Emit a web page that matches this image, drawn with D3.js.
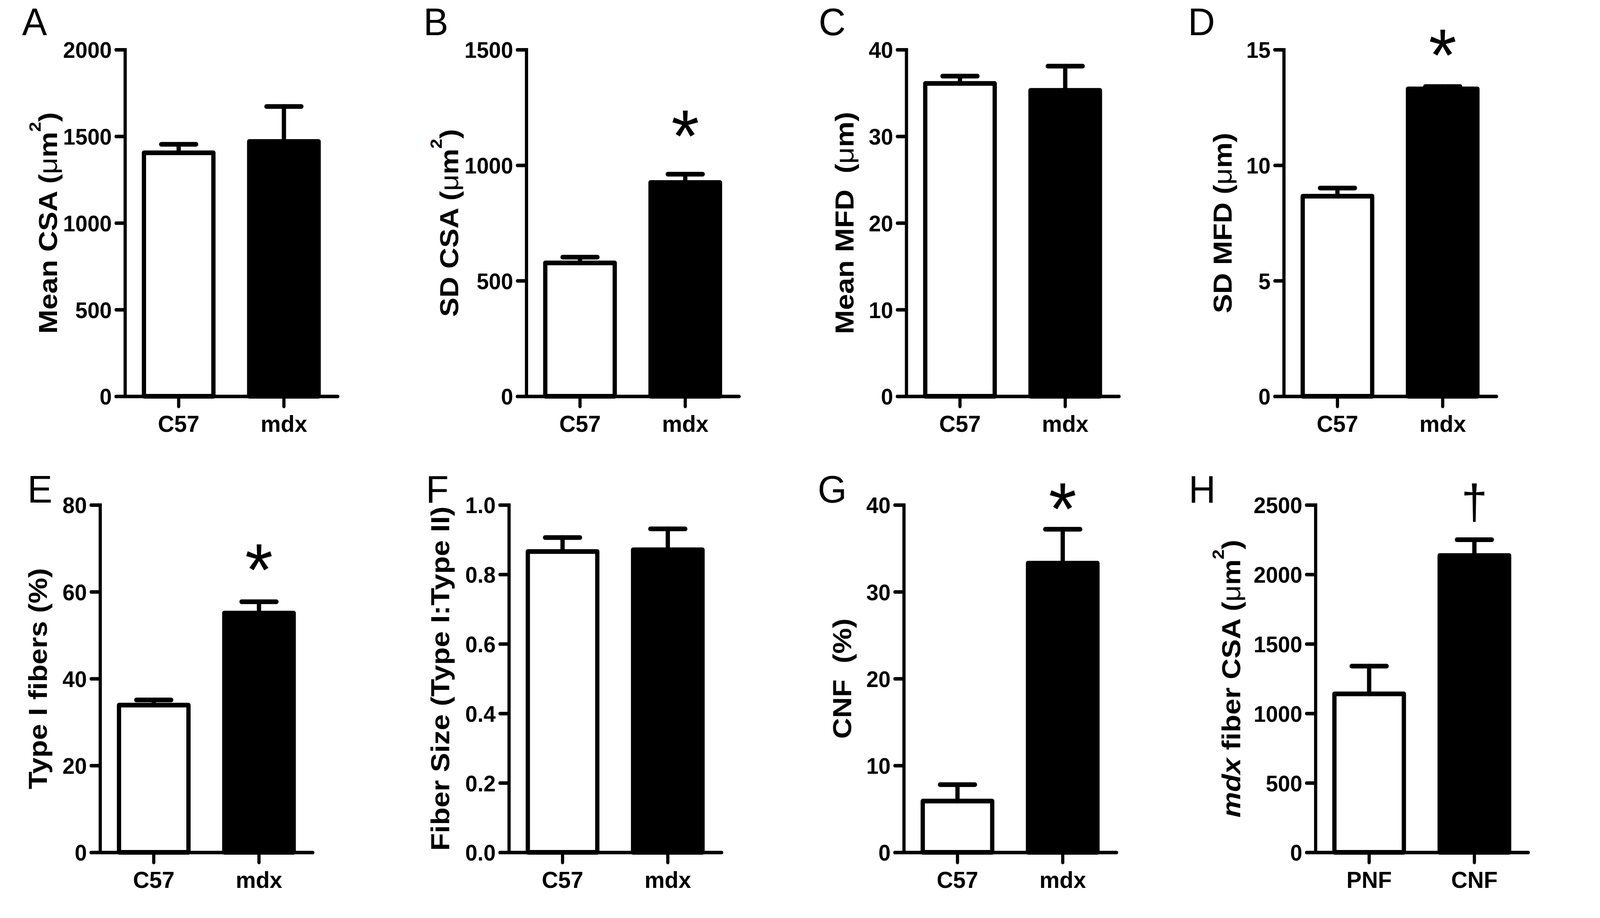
<!DOCTYPE html>
<html>
<head>
<meta charset="utf-8">
<script src="https://cdn.jsdelivr.net/npm/d3@7"></script>
<style>
  html, body { margin: 0; padding: 0; background: #fff; overflow: hidden; }
  #figure { display: block; width: 100vw; height: 100vh; }
  text { font-family: Arial, "Liberation Sans", sans-serif; fill: #000; }
</style>
</head>
<body>
<svg id="figure"></svg>
<script>
// groups on the x axis
const panelLetters = ["A", "B", "C", "D", "E", "F", "G", "H"];
const strainGroups = ["C57", "mdx"];
const nucleiGroups = ["PNF", "CNF"];

// bar means
const meanCSA = [1405, 1470];
const sdCSA = [577, 925];
const meanMFD = [36.1, 35.3];
const sdMFD = [8.66, 13.3];
const typeIFibers = [33.9, 55.1];
const fiberSizeRatio = [0.866, 0.871];
const cnfPercent = [5.9, 33.3];
const mdxFiberCSA = [1140, 2136];

// upper error bars (SEM)
const meanCSAErr = [49, 202];
const sdCSAErr = [25, 36];
const meanMFDErr = [0.85, 2.8];
const sdMFDErr = [0.35, 0.1];
const typeIFibersErr = [1.2, 2.6];
const fiberSizeRatioErr = [0.04, 0.06];
const cnfPercentErr = [1.9, 3.9];
const mdxFiberCSAErr = [200, 114];

// y tick values
const ticksMeanCSA = [0, 500, 1000, 1500, 2000];
const ticksSdCSA = [0, 500, 1000, 1500];
const ticksMeanMFD = [0, 10, 20, 30, 40];
const ticksSdMFD = [0, 5, 10, 15];
const ticksTypeI = [0, 20, 40, 60, 80];
const ticksRatio = [0, 0.2, 0.4, 0.6, 0.8, 1.0];
const ticksCNF = [0, 10, 20, 30, 40];
const ticksMdxCSA = [0, 500, 1000, 1500, 2000, 2500];

// y axis titles (μ = plain weight, ^2 = superscript, _x_ = italic)
const yTitles = [
  "Mean CSA (μm^2)",
  "SD CSA (μm^2)",
  "Mean MFD  (μm)",
  "SD MFD (μm)",
  "Type I fibers (%)",
  "Fiber Size (Type I:Type II)",
  "CNF  (%)",
  "_mdx_ fiber CSA (μm^2)"
];

// significance marks over the second bar, and the level they sit at
const sigMarks = ["", "*", "", "*", "*", "", "*", "†"];
const sigLevels = [null, 1200, null, 15.5, 69, null, 41.5, 2500];

const panels = [
  { groups: strainGroups, means: meanCSA, errs: meanCSAErr, ticks: ticksMeanCSA, fmt: d3.format("d") },
  { groups: strainGroups, means: sdCSA, errs: sdCSAErr, ticks: ticksSdCSA, fmt: d3.format("d") },
  { groups: strainGroups, means: meanMFD, errs: meanMFDErr, ticks: ticksMeanMFD, fmt: d3.format("d") },
  { groups: strainGroups, means: sdMFD, errs: sdMFDErr, ticks: ticksSdMFD, fmt: d3.format("d") },
  { groups: strainGroups, means: typeIFibers, errs: typeIFibersErr, ticks: ticksTypeI, fmt: d3.format("d") },
  { groups: strainGroups, means: fiberSizeRatio, errs: fiberSizeRatioErr, ticks: ticksRatio, fmt: d3.format(".1f") },
  { groups: strainGroups, means: cnfPercent, errs: cnfPercentErr, ticks: ticksCNF, fmt: d3.format("d") },
  { groups: nucleiGroups, means: mdxFiberCSA, errs: mdxFiberCSAErr, ticks: ticksMdxCSA, fmt: d3.format("d") }
];

// layout
const W = 4493, H = 2349;
const axisX = [351, 1478, 2545, 3605, 281, 1429, 2538, 3694];
const titleOffset = [191, 191, 148, 146, 149, 168, 148, 211];
const letterX = [62, 1189, 2299, 3336, 77, 1196, 2296, 3338];
const letterY = [90, 1286];
const rowTop = [127, 1292], rowZero = [1014, 2181];
const axisLen = 597, tickLen = 25;
const stretch = 1.06; // glyphs in the figure are a little wide

// fill the whole window like the original figure does
const svg = d3.select("#figure")
  .attr("viewBox", "0 0 " + W + " " + H)
  .attr("preserveAspectRatio", "none");
svg.append("rect").attr("width", W).attr("height", H).attr("fill", "#fff");

function writeTitle(sel, str) {
  const parts = str.split(/(μ|\^2|_[^_]+_)/).filter(s => s.length);
  let shifted = false;
  parts.forEach(part => {
    const ts = sel.append("tspan");
    if (shifted) { ts.attr("dy", 46); shifted = false; }
    if (part === "μ") ts.attr("font-weight", "normal").text("μ");
    else if (part === "^2") { ts.attr("font-size", 46).attr("dy", -46).text("2"); shifted = true; }
    else if (part[0] === "_") ts.attr("font-style", "italic").text(part.slice(1, -1));
    else ts.text(part);
  });
}

panels.forEach((p, i) => {
  const row = i < 4 ? 0 : 1;
  const top = rowTop[row], zero = rowZero[row];
  const g = svg.append("g").attr("transform", "translate(" + axisX[i] + ",0)");

  const x = d3.scaleBand().domain(p.groups).range([0, axisLen])
    .paddingInner(0.34).paddingOuter(0.18);
  const y = d3.scaleLinear().domain([0, d3.max(p.ticks)]).range([zero, top]);
  const bw = x.bandwidth();

  // bars
  g.selectAll(".bar").data(p.groups).enter().append("rect")
    .attr("x", d => x(d))
    .attr("y", (d, j) => y(p.means[j]))
    .attr("width", bw)
    .attr("height", (d, j) => zero - y(p.means[j]))
    .attr("fill", (d, j) => j === 0 ? "#fff" : "#000")
    .attr("stroke", "#000")
    .attr("stroke-width", 12)
    .attr("stroke-linejoin", "round");

  // error bars (upper only)
  const eb = g.selectAll(".err").data(p.groups).enter().append("g");
  eb.append("line")
    .attr("x1", d => x(d) + bw / 2).attr("x2", d => x(d) + bw / 2)
    .attr("y1", (d, j) => y(p.means[j]))
    .attr("y2", (d, j) => y(p.means[j] + p.errs[j]));
  eb.append("line")
    .attr("x1", d => x(d) + bw / 2 - 49).attr("x2", d => x(d) + bw / 2 + 49)
    .attr("y1", (d, j) => y(p.means[j] + p.errs[j]))
    .attr("y2", (d, j) => y(p.means[j] + p.errs[j]));
  eb.selectAll("line").attr("stroke", "#000").attr("stroke-width", 12).attr("stroke-linecap", "round");

  // y axis
  const ya = g.append("g")
    .call(d3.axisLeft(y).tickValues(p.ticks).tickFormat(p.fmt)
      .tickSize(tickLen).tickSizeOuter(tickLen).tickPadding(12))
    .attr("font-family", null).attr("font-size", null);
  ya.select(".domain").attr("stroke-width", 9).attr("stroke-linecap", "round").attr("stroke-linejoin", "miter");
  ya.selectAll(".tick line").attr("stroke-width", 9).attr("stroke-linecap", "round");
  ya.selectAll(".tick text")
    .attr("font-size", 58).attr("font-weight", "bold")
    .attr("x", -(tickLen + 12) / stretch).attr("dy", "0.36em")
    .attr("transform", "scale(" + stretch + ",1)");

  // x axis
  const xa = g.append("g").attr("transform", "translate(0," + zero + ")")
    .call(d3.axisBottom(x).tickSize(26).tickSizeOuter(0).tickPadding(22))
    .attr("font-family", null).attr("font-size", null);
  xa.select(".domain").attr("stroke-width", 9).attr("stroke-linecap", "round");
  xa.selectAll(".tick line").attr("stroke-width", 9).attr("stroke-linecap", "round");
  xa.selectAll(".tick text")
    .attr("font-size", 60).attr("font-weight", "bold")
    .attr("transform", "scale(" + stretch + ",1)");

  // y title
  const t = g.append("text")
    .attr("transform", "translate(" + (-titleOffset[i]) + "," + ((top + zero) / 2) + ") rotate(-90)")
    .attr("text-anchor", "middle")
    .attr("font-size", 74)
    .attr("font-weight", "bold")
    .style("white-space", "pre");
  writeTitle(t, yTitles[i]);

  // significance mark
  if (sigMarks[i]) {
    const dagger = sigMarks[i] === "†";
    g.append("text")
      .attr("transform", "translate(" + (x(p.groups[1]) + bw / 2) + "," + y(sigLevels[i]) + ") scale(" + stretch + ",1)")
      .attr("text-anchor", "middle")
      .attr("font-size", dagger ? 125 : 190)
      .attr("dy", dagger ? "0.28em" : "0.57em")
      .text(sigMarks[i]);
  }

  // panel letter
  svg.append("text")
    .attr("transform", "translate(" + letterX[i] + "," + letterY[row] + ") scale(" + stretch + ",1)")
    .attr("font-size", 99)
    .text(panelLetters[i]);
});
</script>
</body>
</html>
